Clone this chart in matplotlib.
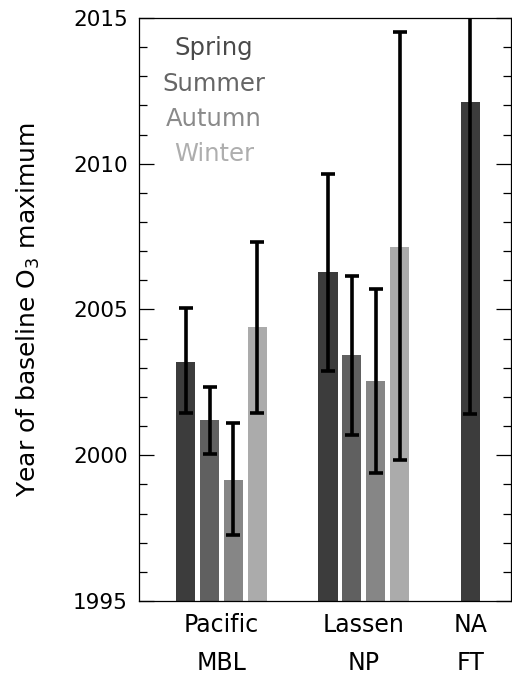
import matplotlib
matplotlib.use("Agg")
import matplotlib.pyplot as plt
from matplotlib.ticker import MultipleLocator
import numpy as np

plt.rcParams['font.family'] = ['DejaVu Sans']

sites = ["Pacific\nMBL", "Lassen\nNP", "NA\nFT"]
seasons = ["Spring", "Summer", "Autumn", "Winter"]
season_colors = ["#3c3c3c", "#606060", "#868686", "#ababab"]
text_colors = ["#4a4a4a", "#666666", "#8a8a8a", "#aeaeae"]

# Year of maximum per site and season (None = no data)
peak_year = {
    "Spring": [2003.2, 2006.3, 2012.1],
    "Summer": [2001.2, 2003.45, None],
    "Autumn": [1999.15, 2002.55, None],
    "Winter": [2004.4, 2007.15, None],
}
err_low = {
    "Spring": [2001.45, 2002.9, 2001.4],
    "Summer": [2000.05, 2000.7, None],
    "Autumn": [1997.25, 1999.4, None],
    "Winter": [2001.45, 1999.85, None],
}
err_high = {
    "Spring": [2005.05, 2009.65, 2022.7],
    "Summer": [2002.35, 2006.15, None],
    "Autumn": [2001.1, 2005.7, None],
    "Winter": [2007.3, 2014.5, None],
}

fig = plt.figure(figsize=(5.12, 6.78), dpi=100)
ax = fig.add_axes([0.2715, 0.1136, 0.726, 0.86])

group_x = np.arange(len(sites))
step = 0.168
width = 0.134
offsets = (np.arange(4) - 1.5) * step
base = 1995

for k, s in enumerate(seasons):
    for g in range(len(sites)):
        v = peak_year[s][g]
        if v is None:
            continue
        x = group_x[g] + offsets[k]
        ax.bar(x, v - base, width=width, bottom=base, color=season_colors[k],
               edgecolor="none", zorder=2)
        lo, hi = err_low[s][g], err_high[s][g]
        ax.errorbar(x, v, yerr=[[v - lo], [hi - v]], fmt="none", ecolor="black",
                    elinewidth=2.6, capsize=5, capthick=2.6, zorder=3)

ax.set_xlim(-0.579, 2.031)
ax.set_ylim(1995, 2015)

tick_pos = [group_x[0], group_x[1], group_x[2] + offsets[0]]
ax.set_xticks(tick_pos)
ax.set_xticklabels(sites, fontsize=17, linespacing=1.7)
ax.tick_params(axis="x", length=0, pad=9)

ax.yaxis.set_major_locator(MultipleLocator(5))
ax.yaxis.set_minor_locator(MultipleLocator(1))
ax.tick_params(axis="y", which="major", direction="in", length=11, width=0.9,
               right=True, labelsize=15.5, pad=8)
ax.tick_params(axis="y", which="minor", direction="in", length=6, width=0.9,
               right=True)
for sp in ax.spines.values():
    sp.set_linewidth(0.9)

ax.set_ylabel("Year of baseline O$_3$ maximum", fontsize=18, labelpad=22)

legend_y = [0.9366, 0.8748, 0.8148, 0.7547]
for s, c, yy in zip(seasons, text_colors, legend_y):
    ax.text(0.2016, yy, s, transform=ax.transAxes, ha="center", va="baseline",
            fontsize=17.5, color=c)

fig.savefig("out.png", dpi=100)
